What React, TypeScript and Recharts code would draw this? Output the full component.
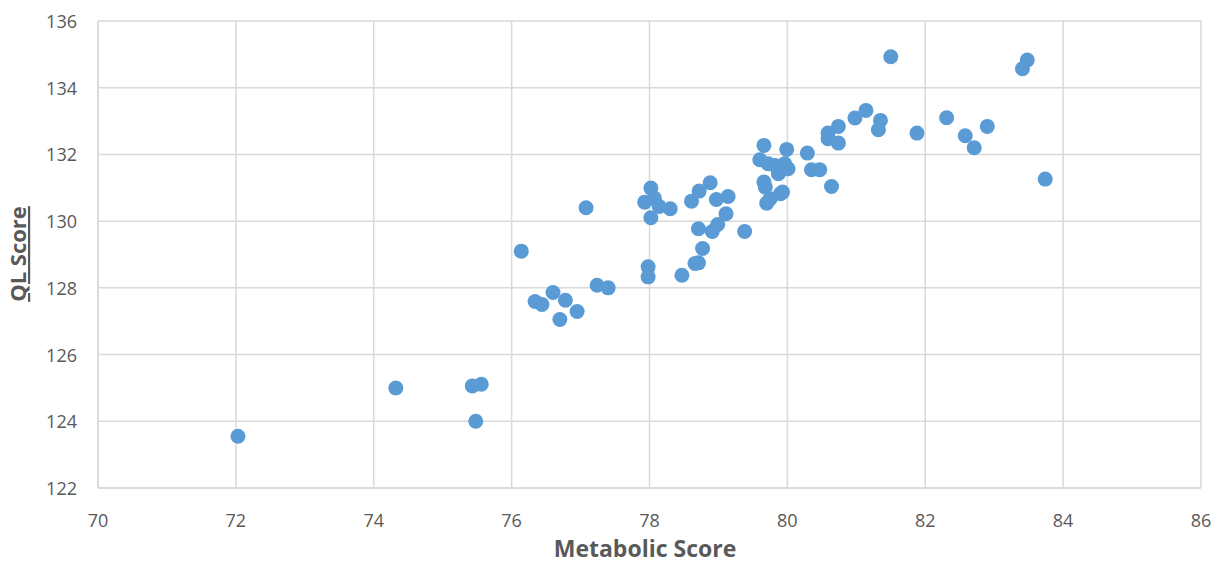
import { CartesianGrid, Scatter, ScatterChart, XAxis, YAxis } from "recharts";

const metabolic = [
  72.03, 74.32, 75.43, 75.56, 75.48, 76.14, 76.34, 76.44, 76.6, 76.78, 76.7, 76.95,
  77.24, 77.4, 77.98, 77.98, 77.08, 78.02, 77.93, 78.07, 78.14, 78.3, 78.02, 78.47,
  78.66, 78.71, 78.77, 78.71, 78.91, 78.99, 79.11, 79.38, 78.61, 78.72, 78.88, 78.97,
  79.14, 79.66, 79.6, 79.72, 79.82, 79.96, 80.01, 79.87, 79.99, 80.29, 80.35, 80.47,
  79.66, 79.68, 79.93, 79.9, 80.64, 79.75, 79.7, 80.59, 80.59, 80.74, 80.74, 80.98,
  81.14, 81.35, 81.32, 81.5, 81.88, 82.31, 82.58, 82.71, 82.9, 83.48, 83.41, 83.74,
];

const qlScore = [
  123.55, 125.0, 125.06, 125.11, 124.0, 129.1, 127.59, 127.5, 127.86, 127.63, 127.05, 127.29,
  128.08, 128.0, 128.63, 128.33, 130.4, 130.99, 130.57, 130.69, 130.44, 130.37, 130.1, 128.38,
  128.73, 128.75, 129.18, 129.77, 129.69, 129.9, 130.22, 129.69, 130.6, 130.9, 131.15, 130.65,
  130.74, 132.27, 131.84, 131.72, 131.67, 131.72, 131.57, 131.42, 132.15, 132.04, 131.54, 131.54,
  131.17, 131.02, 130.87, 130.82, 131.04, 130.67, 130.54, 132.64, 132.47, 132.34, 132.84, 133.09,
  133.32, 133.02, 132.74, 134.93, 132.64, 133.1, 132.56, 132.2, 132.84, 134.83, 134.57, 131.26,
];

const xTicks = [70, 72, 74, 76, 78, 80, 82, 84, 86];
const yTicks = [122, 124, 126, 128, 130, 132, 134, 136];

const data = metabolic.map((m, i) => ({ m, q: qlScore[i] }));

const FONT = "'Open Sans', 'Liberation Sans', sans-serif";
const TEXT = "#595959";
const GRID = "#d9d9d9";

const XTick = ({ x, y, payload }: any) => (
  <text x={x} y={y + 37} textAnchor="middle" fill={TEXT} fontSize={18} fontFamily={FONT}>
    {payload.value}
  </text>
);

const YTick = ({ y, payload }: any) => (
  <text x={77} y={y + 7} textAnchor="end" fill={TEXT} fontSize={18} fontFamily={FONT}>
    {payload.value}
  </text>
);

export default function App() {
  return (
    <div style={{ position: "absolute", left: 0, top: 0, width: 1215, height: 566, background: "#fff" }}>
      <ScatterChart width={1215} height={566} margin={{ top: 21, right: 14, bottom: 0, left: 0 }}>
        <CartesianGrid stroke={GRID} strokeWidth={1.5} />
        <XAxis
          type="number"
          dataKey="m"
          domain={[70, 86]}
          ticks={xTicks}
          height={78}
          axisLine={{ stroke: GRID, strokeWidth: 1.5 }}
          tickLine={false}
          tickSize={0}
          tick={<XTick />}
          interval={0}
        />
        <YAxis
          type="number"
          dataKey="q"
          domain={[122, 136]}
          ticks={yTicks}
          width={98}
          axisLine={{ stroke: GRID, strokeWidth: 1.5 }}
          tickLine={false}
          tickSize={0}
          tick={<YTick />}
          interval={0}
        />
        <Scatter
          data={data}
          fill="#5b9bd5"
          shape={(p: any) => <circle cx={p.cx} cy={p.cy} r={7.5} fill="#5b9bd5" />}
          isAnimationActive={false}
        />
        <text x={645} y={557} textAnchor="middle" fill={TEXT} fontSize={23} fontWeight="bold" fontFamily={FONT}>
          Metabolic Score
        </text>
        <text
          x={0}
          y={0}
          transform="translate(26 254) rotate(-90)"
          textAnchor="middle"
          fill={TEXT}
          fontSize={22}
          fontWeight="bold"
          fontFamily={FONT}
          textDecoration="underline"
        >
          QL Score
        </text>
      </ScatterChart>
    </div>
  );
}
